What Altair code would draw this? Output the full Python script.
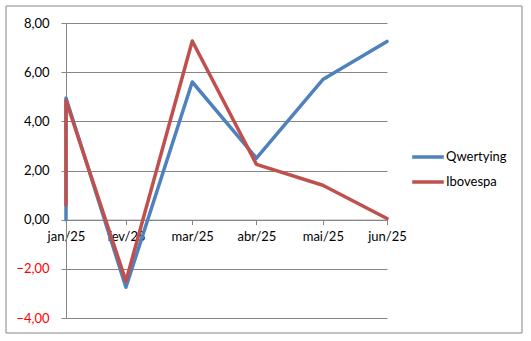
import altair as alt
import pandas as pd

month_names = ["jan", "fev", "mar", "abr", "mai", "jun", "jul", "ago", "set", "out", "nov", "dez"]
series_names = ["Qwertying", "Ibovespa"]
tick_dates = ["2025-01-31", "2025-02-28", "2025-03-31", "2025-04-30", "2025-05-31", "2025-06-30"]
# several points fall on the first date
q_dates = ["2025-01-31", "2025-01-31", "2025-02-28", "2025-03-31", "2025-04-30", "2025-05-31", "2025-06-30"]
q_val = [0.0, 4.95, -2.75, 5.6, 2.5, 5.7, 7.25]
i_dates = ["2025-01-31", "2025-01-31", "2025-02-28", "2025-03-31", "2025-04-30", "2025-05-31", "2025-06-30"]
i_val = [0.6, 4.85, -2.5, 7.27, 2.25, 1.4, 0.05]
y_ticks = [-4, -2, 0, 2, 4, 6, 8]

colors = ["#4F81BD", "#C0504D"]

rows = []
for n, (ds, vs) in enumerate([(q_dates, q_val), (i_dates, i_val)]):
    for k, (d, v) in enumerate(zip(ds, vs)):
        rows.append({"serie": series_names[n], "data": d, "ord": k, "valor": v})
df = pd.DataFrame(rows)


def dt(s):
    y, m, d = (int(p) for p in s.split("-"))
    return alt.DateTime(year=y, month=m, date=d, utc=True)


W, H = 321, 295
FONT = "Lato"
GRID = "#868686"

label_expr = ("['" + "','".join(month_names) + "'][utcmonth(datum.value)] + '/' + "
              "utcFormat(datum.value, '%y')")

x_enc = alt.X(
    "data:T",
    scale=alt.Scale(type="utc", domain=[dt(tick_dates[0]), dt(tick_dates[-1])], nice=False),
    axis=alt.Axis(
        values=[dt(s) for s in tick_dates],
        labelExpr=label_expr,
        title=None,
        grid=False,
        domainColor=GRID,
        tickColor=GRID,
        tickSize=5,
        labelPadding=6,
        labelFontSize=13,
        labelFont=FONT,
        labelColor="#000000",
        offset=-(H * 4 / 12),
        labelFlush=False,
        labelOverlap=False,
    ),
)
y_enc = alt.Y(
    "valor:Q",
    scale=alt.Scale(domain=[-4, 8], nice=False),
    axis=alt.Axis(
        values=y_ticks,
        labelExpr="replace(format(datum.value, '.2f'), '.', ',')",
        title=None,
        grid=True,
        gridColor=GRID,
        domainColor=GRID,
        tickColor=GRID,
        tickSize=5,
        labelPadding=12,
        labelFontSize=13,
        labelFont=FONT,
        labelColor={"condition": {"test": "datum.value < 0", "value": "#FF0000"}, "value": "#000000"},
    ),
)

color_enc = alt.Color(
    "serie:N",
    scale=alt.Scale(domain=series_names, range=colors),
    legend=alt.Legend(
        title=None,
        orient="none",
        legendX=344,
        legendY=116,
        symbolType="stroke",
        symbolSize=1000,
        symbolStrokeWidth=3.5,
        labelFont=FONT,
        labelFontSize=13,
        labelColor="#000000",
        labelOffset=0,
        rowPadding=-8,
    ),
)

base = alt.Chart(df)
lines = [
    base.transform_filter(alt.datum.serie == s)
    .mark_line(strokeWidth=3.5, strokeCap="round", strokeJoin="round")
    .encode(x=x_enc, y=y_enc, color=color_enc, order="ord:Q")
    for s in series_names
]

border = alt.Chart(pd.DataFrame({"a": [0]})).mark_rect(
    fill=None, stroke=GRID, strokeWidth=1
).encode(
    x=alt.value(-60), x2=alt.value(456), y=alt.value(-17), y2=alt.value(310)
)

chart = alt.layer(border, *lines).properties(
    width=W, height=H,
    autosize=alt.AutoSizeParams(type="none"),
    padding={"left": 66, "top": 23, "right": 144, "bottom": 23},
    background="#FFFFFF",
).configure_view(stroke=None)

chart.save("out.html", embed_options={"renderer": "svg", "actions": False})
